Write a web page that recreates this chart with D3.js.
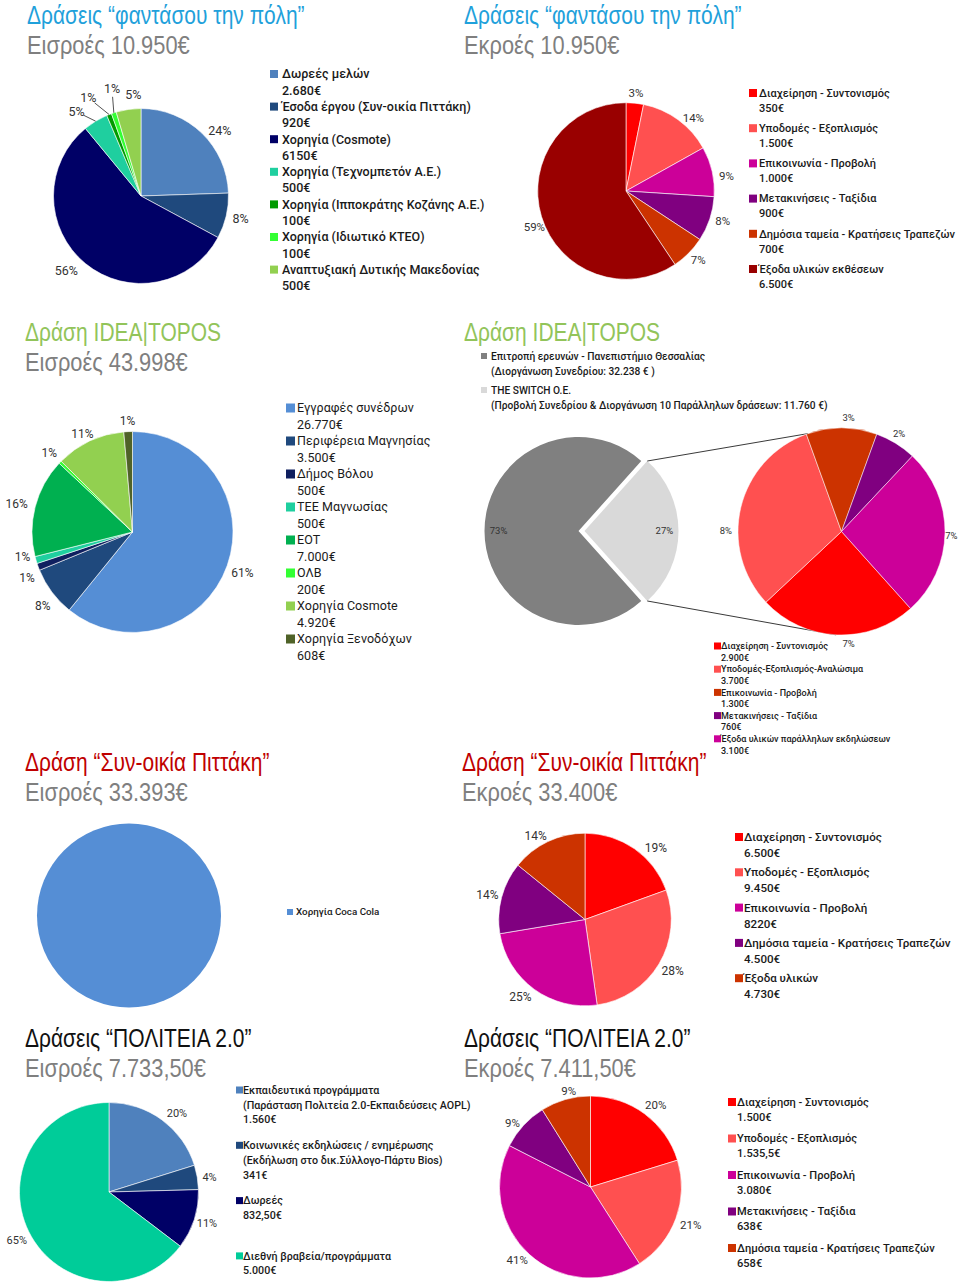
<!DOCTYPE html>
<html>
<head>
<meta charset="utf-8">
<script src="https://cdn.jsdelivr.net/npm/d3@7"></script>
<style>
  body { margin: 0; background: #fff; }
  svg { display: block; }
  .title { font-family: "Liberation Sans", Arial, sans-serif; font-size: 25px; }
  .sub { font-family: "Liberation Sans", Arial, sans-serif; font-size: 26px; fill: #7f7f7f; }
  .legend text { font-family: Roboto, "Noto Sans", sans-serif; fill: #1a1a1a; }
  .pct { font-family: Roboto, "Noto Sans", sans-serif; fill: #333; }
</style>
</head>
<body>
<div id="chart"></div>
<script>
// --- φαντάσου την πόλη : εισροές
const fanInNames = ["Δωρεές μελών", "Έσοδα έργου (Συν-οικία Πιττάκη)", "Χορηγία (Cosmote)", "Χορηγία (Τεχνομπετόν Α.Ε.)",
  "Χορηγία (Ιπποκράτης Κοζάνης Α.Ε.)", "Χορηγία (Ιδιωτικό ΚΤΕΟ)", "Αναπτυξιακή Δυτικής Μακεδονίας"];
const fanInValues = [2680, 920, 6150, 500, 100, 100, 500];
const fanInText = ["2.680€", "920€", "6150€", "500€", "100€", "100€", "500€"];
const fanInPct = ["24%", "8%", "56%", "5%", "1%", "1%", "5%"];

// --- φαντάσου την πόλη : εκροές
const fanOutNames = ["Διαχείρηση - Συντονισμός", "Υποδομές - Εξοπλισμός", "Επικοινωνία - Προβολή", "Μετακινήσεις - Ταξίδια",
  "Δημόσια ταμεία - Κρατήσεις Τραπεζών", "Έξοδα υλικών εκθέσεων"];
const fanOutValues = [350, 1500, 1000, 900, 700, 6500];
const fanOutText = ["350€", "1.500€", "1.000€", "900€", "700€", "6.500€"];
const fanOutPct = ["3%", "14%", "9%", "8%", "7%", "59%"];

// --- IDEA|TOPOS : εισροές
const ideaInNames = ["Εγγραφές συνέδρων", "Περιφέρεια Μαγνησίας", "Δήμος Βόλου", "ΤΕΕ Μαγνωσίας", "ΕΟΤ", "ΟΛΒ",
  "Χορηγία Cosmote", "Χορηγία Ξενοδόχων"];
const ideaInValues = [26770, 3500, 500, 500, 7000, 200, 4920, 608];
const ideaInText = ["26.770€", "3.500€", "500€", "500€", "7.000€", "200€", "4.920€", "608€"];
const ideaInPct = ["61%", "8%", "1%", "1%", "16%", "1%", "11%", "1%"];

// --- IDEA|TOPOS : εκροές (pie of pie)
const ideaOutNames = ["Επιτροπή ερευνών - Πανεπιστήμιο Θεσσαλίας", "THE SWITCH O.E."];
const ideaOutNotes = ["(Διοργάνωση Συνεδρίου:  32.238 € )", "(Προβολή Συνεδρίου & Διοργάνωση 10 Παράλληλων δράσεων: 11.760 €)"];
const ideaOutValues = [32238, 11760];
const ideaOutPct = ["73%", "27%"];
const switchNames = ["Διαχείρηση - Συντονισμός", "Υποδομές-Εξοπλισμός-Αναλώσιμα", "Επικοινωνία - Προβολή",
  "Μετακινήσεις - Ταξίδια", "Έξοδα υλικών παράλληλων εκδηλώσεων"];
const switchValues = [2900, 3700, 1300, 760, 3100];
const switchText = ["2.900€", "3.700€", "1.300€", "760€", "3.100€"];
const switchPct = ["7%", "8%", "3%", "2%", "7%"];

// --- Συν-οικία Πιττάκη
const pitInNames = ["Χορηγία Coca Cola"];
const pitInValues = [33393];
const pitOutNames = ["Διαχείρηση - Συντονισμός", "Υποδομές - Εξοπλισμός", "Επικοινωνία - Προβολή",
  "Δημόσια ταμεία - Κρατήσεις Τραπεζών", "Έξοδα υλικών"];
const pitOutValues = [6500, 9450, 8220, 4500, 4730];
const pitOutText = ["6.500€", "9.450€", "8220€", "4.500€", "4.730€"];
const pitOutPct = ["19%", "28%", "25%", "14%", "14%"];

// --- ΠΟΛΙΤΕΙΑ 2.0
const polInNames = ["Εκπαιδευτικά προγράμματα", "Κοινωνικές εκδηλώσεις / ενημέρωσης", "Δωρεές", "Διεθνή βραβεία/προγράμματα"];
const polInNotes = ["(Παράσταση Πολιτεία 2.0-Εκπαιδεύσεις AOPL)", "(Εκδήλωση στο δικ.Σύλλογο-Πάρτυ Bios)", null, null];
const polInValues = [1560, 341, 832.5, 5000];
const polInText = ["1.560€", "341€", "832,50€", "5.000€"];
const polInPct = ["20%", "4%", "11%", "65%"];
const polOutNames = ["Διαχείρηση - Συντονισμός", "Υποδομές - Εξοπλισμός", "Επικοινωνία - Προβολή",
  "Μετακινήσεις - Ταξίδια", "Δημόσια ταμεία - Κρατήσεις Τραπεζών"];
const polOutValues = [1500, 1535.5, 3080, 638, 658];
const polOutText = ["1.500€", "1.535,5€", "3.080€", "638€", "658€"];
const polOutPct = ["20%", "21%", "41%", "9%", "9%"];

// palettes
const blues = ["#4f81bd", "#1f497d", "#000066"];
const reds = { red: "#ff0000", salmon: "#ff5050", magenta: "#cc0099", purple: "#800080", rust: "#cc3300", dark: "#990000" };

const svg = d3.select("#chart").append("svg")
  .attr("width", 960)
  .attr("height", 1287);

const deg = Math.PI / 180;
const mid = d => (d.startAngle + d.endAngle) / 2;
const polar = (a, r) => [r * Math.sin(a), -r * Math.cos(a)];

// headings use a horizontally squeezed sans to mimic the condensed face
function heading(x, y, title, sub, color) {
  const g = svg.append("g").attr("transform", `translate(${x},${y}) scale(0.84,1)`);
  g.append("text").attr("class", "title").attr("fill", color).text(title);
  if (sub) g.append("text").attr("class", "sub").attr("y", 30).text(sub);
}

// pie with outside % labels
function pieChart(o) {
  const start = o.start || 0;
  const arcs = d3.pie().sort(null).startAngle(start).endAngle(start + 2 * Math.PI)(o.values);
  const arc = d3.arc().innerRadius(0).outerRadius(o.r);
  const g = svg.append("g").attr("transform", `translate(${o.cx},${o.cy})`);

  g.selectAll("path").data(arcs).join("path")
    .attr("transform", (d, i) => {
      const e = o.explode ? o.explode[i] : 0;
      const [dx, dy] = polar(mid(d), e);
      return `translate(${dx},${dy})`;
    })
    .attr("d", arc)
    .attr("fill", (d, i) => o.colors[i])
    .attr("stroke", "#fff")
    .attr("stroke-width", o.stroke ?? 0.6);

  if (o.pct) {
    const pos = arcs.map((d, i) => {
      const e = o.explode ? o.explode[i] : 0;
      const [x, y] = polar(mid(d), o.r * o.labelR + e);
      const n = o.nudge && o.nudge[i] ? o.nudge[i] : [0, 0];
      return [x + n[0], y + n[1]];
    });

    // leader lines for the small slices
    (o.leaders || []).forEach(i => {
      const [ax, ay] = polar(mid(arcs[i]), o.r);
      const [lx, ly] = pos[i];
      const len = Math.hypot(ax - lx, ay - ly);
      const k = 8 / len;
      g.append("path")
        .attr("d", `M${lx + (ax - lx) * k},${ly + (ay - ly) * k}L${ax},${ay}`)
        .attr("stroke", "#404040").attr("stroke-width", 0.9).attr("fill", "none");
    });

    g.selectAll("text.pct").data(arcs).join("text")
      .attr("class", "pct")
      .attr("x", (d, i) => pos[i][0])
      .attr("y", (d, i) => pos[i][1])
      .attr("text-anchor", "middle")
      .attr("dy", "0.35em")
      .style("font-size", o.font + "px")
      .text((d, i) => o.pct[i]);
  }
  return { g, arcs };
}

function legend(o) {
  const g = svg.append("g").attr("class", "legend")
    .style("font-size", o.font + "px")
    .style("font-weight", o.weight || 400)
    .style("letter-spacing", (o.spacing || 0) + "px");
  o.names.forEach((name, i) => {
    const y0 = o.y + i * o.step;
    g.append("rect")
      .attr("x", o.x).attr("y", y0 - o.sq / 2)
      .attr("width", o.sq).attr("height", o.sq)
      .attr("fill", o.colors[i]);
    const lines = [name, o.notes ? o.notes[i] : null, o.texts ? o.texts[i] : null].filter(Boolean);
    lines.forEach((t, k) => {
      g.append("text")
        .attr("x", o.x + o.dx)
        .attr("y", y0 + k * o.line)
        .attr("dy", "0.35em")
        .text(t);
    });
  });
}

// ---------- 1. φαντάσου την πόλη ----------
heading(27, 24, "Δράσεις “φαντάσου την πόλη”", "Εισροές 10.950€", "#1fa1db");
heading(464, 24, "Δράσεις “φαντάσου την πόλη”", "Εκροές 10.950€", "#1fa1db");

const fanInColors = [...blues, "#1fcf9f", "#009a00", "#33ff33", "#92d050"];
pieChart({
  cx: 141, cy: 196, r: 87.5, values: fanInValues, colors: fanInColors,
  pct: fanInPct, labelR: 1.18, font: 12.5,
  nudge: [[7, 9], [-1, -1], [-9, -5], [-11, 4], [-15, -2], [3, -9], [7, 1]],
  leaders: [3, 4, 5]
});
legend({ x: 270, y: 74, step: 32.6, line: 16.3, sq: 8, dx: 12, font: 12.5, weight: 500,
  names: fanInNames, texts: fanInText, colors: fanInColors });

const fanOutColors = [reds.red, reds.salmon, reds.magenta, reds.purple, reds.rust, reds.dark];
pieChart({
  cx: 626, cy: 191, r: 88.3, values: fanOutValues, colors: fanOutColors,
  pct: fanOutPct, labelR: 1.12, font: 11.5,
  nudge: [[0, 0], [9, 7], [4, 7], [3, -1], [2, -1], [3, 7]]
});
legend({ x: 749, y: 93, step: 35.2, line: 15, sq: 8, dx: 10, font: 11, weight: 500,
  names: fanOutNames, texts: fanOutText, colors: fanOutColors });

// ---------- 2. IDEA|TOPOS ----------
heading(25, 341, "Δράση IDEA|TOPOS", "Εισροές 43.998€", "#92c45a");
heading(464, 341, "Δράση IDEA|TOPOS", null, "#92c45a");

const ideaInColors = ["#558ed5", "#1f497d", "#0f1f5f", "#1fcf9f", "#00b050", "#33ff33", "#92d050", "#4f6228"];
pieChart({
  cx: 132.5, cy: 532, r: 100.5, values: ideaInValues, colors: ideaInColors,
  pct: ideaInPct, labelR: 1.15, font: 12,
  nudge: [[1, 2], [3, 5], [3, 6], [1, -7], [-4, 1], [0, 1], [-1, 6], [0, 4]]
});
legend({ x: 286, y: 408, step: 33, line: 16.5, sq: 9, dx: 11, font: 12.5, spacing: 0.05,
  names: ideaInNames, texts: ideaInText, colors: ideaInColors });

// pie of pie
const ideaOutColors = ["#808080", "#d9d9d9"];
const switchColors = [reds.red, reds.salmon, reds.rust, reds.purple, reds.magenta];
const splitStart = Math.PI / 2 + Math.PI * ideaOutValues[1] / d3.sum(ideaOutValues);
const mainPie = { cx: 578.5, cy: 531, r: 94 };
const secPie = { cx: 841.5, cy: 531.5, r: 103.5 };
const explode = 6;

legend({ x: 481, y: 356, step: 34, line: 15, sq: 6, dx: 10, font: 10.2, weight: 500,
  names: ideaOutNames, notes: ideaOutNotes, colors: ideaOutColors });

const main = pieChart({
  ...mainPie, values: ideaOutValues, colors: ideaOutColors, start: splitStart,
  explode: [0, explode], stroke: 0,
  pct: ideaOutPct, labelR: 0.85, font: 9.5
});

// connectors from the exploded slice to the secondary pie
const sw = main.arcs[1];
const cornerTop = polar(sw.startAngle, mainPie.r);
const cornerBot = polar(sw.endAngle, mainPie.r);
const shift = polar(mid(sw), explode);
const secTop = polar(-19 * deg, secPie.r);
const secBot = polar(183 * deg, secPie.r);
[[cornerTop, secTop], [cornerBot, secBot]].forEach(([a, b]) => {
  svg.append("line")
    .attr("x1", mainPie.cx + a[0] + shift[0]).attr("y1", mainPie.cy + a[1] + shift[1])
    .attr("x2", secPie.cx + b[0]).attr("y2", secPie.cy + b[1])
    .attr("stroke", "#3a3a3a").attr("stroke-width", 1);
});

pieChart({
  ...secPie, values: switchValues, colors: switchColors, start: splitStart, stroke: 0.5,
  pct: switchPct, labelR: 1.1, font: 9.5,
  nudge: [[12, -2], [-5, 26], [7, 0], [-2, -1], [-4, 3]]
});
legend({ x: 714, y: 646, step: 23.2, line: 11.6, sq: 7, dx: 7, font: 9, weight: 500,
  names: switchNames, texts: switchText, colors: switchColors });

// ---------- 3. Συν-οικία Πιττάκη ----------
heading(25, 771, "Δράση “Συν-οικία Πιττάκη”", "Εισροές 33.393€", "#c00000");
heading(462, 771, "Δράση “Συν-οικία Πιττάκη”", "Εκροές 33.400€", "#c00000");

pieChart({ cx: 129, cy: 915.5, r: 92, values: pitInValues, colors: ["#558ed5"], stroke: 0 });
legend({ x: 287, y: 912, step: 0, line: 0, sq: 6, dx: 9, font: 9.8, weight: 500,
  names: pitInNames, colors: ["#558ed5"] });

const pitOutColors = [reds.red, reds.salmon, reds.magenta, reds.purple, reds.rust];
pieChart({
  cx: 585, cy: 919.5, r: 86.3, values: pitOutValues, colors: pitOutColors,
  pct: pitOutPct, labelR: 1.17, font: 12,
  nudge: [[13, 11], [1, -1], [-5, -4], [0, 1], [-6, 7]]
});
legend({ x: 735, y: 837, step: 35.3, line: 16, sq: 8, dx: 9, font: 11.6, weight: 500,
  names: pitOutNames, texts: pitOutText, colors: pitOutColors });

// ---------- 4. ΠΟΛΙΤΕΙΑ 2.0 ----------
heading(25, 1047, "Δράσεις “ΠΟΛΙΤΕΙΑ 2.0”", "Εισροές 7.733,50€", "#111");
heading(464, 1047, "Δράσεις “ΠΟΛΙΤΕΙΑ 2.0”", "Εκροές 7.411,50€", "#111");

const polInColors = [...blues, "#00cc99"];
pieChart({
  cx: 109, cy: 1192, r: 89.5, values: polInValues, colors: polInColors,
  pct: polInPct, labelR: 1.15, font: 11,
  nudge: [[7, 4], [-1, 2], [0, 0], [0, 2]]
});
legend({ x: 236, y: 1090, step: 55.3, line: 14.8, sq: 7, dx: 7, font: 10.7, weight: 500,
  names: polInNames, notes: polInNotes, texts: polInText, colors: polInColors });

const polOutColors = [reds.red, reds.salmon, reds.magenta, reds.purple, reds.rust];
pieChart({
  cx: 590.5, cy: 1187, r: 91, values: polOutValues, colors: polOutColors,
  pct: polOutPct, labelR: 1.15, font: 11.5,
  nudge: [[3, 2], [2, 2], [-3, -4], [-1, 7], [7, 5]]
});
legend({ x: 728, y: 1102, step: 36.5, line: 15, sq: 8, dx: 9, font: 11.1, weight: 500,
  names: polOutNames, texts: polOutText, colors: polOutColors });
</script>
</body>
</html>
